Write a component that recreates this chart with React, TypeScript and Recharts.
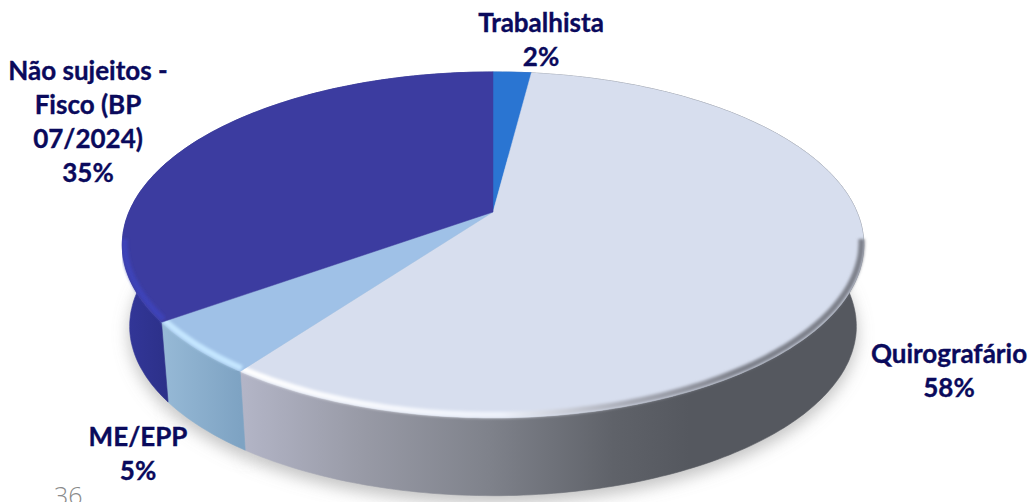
import React from "react";
import { PieChart, Pie, Cell } from "recharts";

const categories = ["Trabalhista", "Quirografário", "ME/EPP", "Não sujeitos - Fisco (BP 07/2024)"];
const shares = [2, 58, 5, 35];
const topColors = ["#2a75d2", "#d7deee", "#9fc1e7", "#3c3ca0"];
const wallFills = ["#2a5fb0", "url(#wallQ)", "url(#wallM)", "url(#wallN)"];
const rimStrokes = ["#3a86e0", "url(#rimQ)", "#c4e6ff", "#3d43b8"];
const labelLines = [["Trabalhista"], ["Quirografário"], ["ME/EPP"], ["Não sujeitos -", "Fisco (BP", "07/2024)"]];
const pageNumber = "36";

const data = categories.map((name, i) => ({ name, value: shares[i] }));

// perspective projection of the pie's circle onto the tilted disc
const K = -0.19, A = 364, B = 166.7;
const project = (cx: number, cy: number, deg: number) => {
  const a = (deg * Math.PI) / 180;
  const u = Math.cos(a), v = -Math.sin(a), w = 1 + K * v;
  return [cx + (A * u) / w, cy + (B * v) / w];
};
const lower = (cx: number, cy: number, p: number[]) => [cx + (p[0] - cx) * 0.98, cy + (p[1] - cy) * 0.98 + 82];
const arc = (cx: number, cy: number, s: number, e: number) => {
  const n = Math.max(2, Math.ceil(Math.abs(e - s)));
  const pts: number[][] = [];
  for (let i = 0; i <= n; i++) pts.push(project(cx, cy, s + ((e - s) * i) / n));
  return pts;
};
const toPath = (pts: number[][]) => "M" + pts.map((p) => `${p[0].toFixed(1)},${p[1].toFixed(1)}`).join("L");

const ShadowShape = (p: any) => {
  const pts = arc(p.cx, p.cy, p.startAngle, p.endAngle).map((q) => lower(p.cx, p.cy, q));
  return <path d={toPath([[p.cx, p.cy + 82], ...pts]) + "Z"} fill="#8a8a8a" fillOpacity={0.5} stroke="#8a8a8a" strokeOpacity={0.5} filter="url(#soft)" transform="translate(0,7)" />;
};

const WallShape = (p: any) => {
  const top = arc(p.cx, p.cy, p.startAngle, p.endAngle);
  const bot = top.map((q) => lower(p.cx, p.cy, q)).reverse();
  const fill = wallFills[p.index];
  return <path d={toPath([...top, ...bot]) + "Z"} fill={fill} stroke={fill} strokeWidth={0.6} />;
};

const TopShape = (p: any) => {
  const pts = arc(p.cx, p.cy, p.startAngle, p.endAngle);
  // front-facing part of the rim only, pulled slightly inside the outline
  const s = Math.min(p.startAngle, -10);
  const e = Math.max(p.endAngle, -170);
  const rim = s > e ? arc(p.cx, p.cy, s, e).map((q) => [p.cx + (q[0] - p.cx) * 0.994, q[1] - 3]) : null;
  return (
    <g>
      <path d={toPath([[p.cx, p.cy], ...pts]) + "Z"} fill={topColors[p.index]} stroke={topColors[p.index]} strokeWidth={0.5} />
      {rim && <path d={toPath(rim)} fill="none" stroke={rimStrokes[p.index]} strokeWidth={6} strokeLinecap="butt" filter="url(#blur)" />}
    </g>
  );
};

const SliceLabel = (p: any) => {
  const anchors = [
    { x: 541, y: 32 },
    { x: 949, y: 363 },
    { x: 138, y: 446 },
    { x: 88, y: 80 },
  ];
  const lines = [...labelLines[p.index], `${shares[p.index]}%`];
  const a = anchors[p.index];
  return (
    <text textAnchor="middle" fontFamily="Lato" fontWeight={700} fontSize={26} fill="#0a0a5c" stroke="#0a0a5c" strokeWidth={0.35}>
      {lines.map((l, i) => (
        <tspan key={i} x={a.x} y={a.y + i * 34}>{l}</tspan>
      ))}
    </text>
  );
};

export default function App() {
  const common = {
    data,
    dataKey: "value",
    nameKey: "name",
    cx: 493,
    cy: 212,
    outerRadius: 170,
    startAngle: 90,
    endAngle: -270,
    paddingAngle: 0,
    isAnimationActive: false,
    stroke: "none",
    legendType: "none" as const,
  };
  return (
    <div style={{ position: "fixed", left: 0, top: 0, width: 1030, height: 502, overflow: "hidden", background: "#fff" }}>
      <PieChart width={1030} height={502} margin={{ top: 0, right: 0, bottom: 0, left: 0 }} style={{ overflow: "hidden" }}>
        <defs>
          <filter id="soft" x="-20%" y="-20%" width="140%" height="140%"><feGaussianBlur stdDeviation="8" /></filter>
          <filter id="blur" x="-5%" y="-5%" width="110%" height="110%"><feGaussianBlur stdDeviation="1.6" /></filter>
          <linearGradient id="wallQ" gradientUnits="userSpaceOnUse" x1="237" y1="0" x2="865" y2="0">
            <stop offset="0" stopColor="#b4b6c8" />
            <stop offset="0.2" stopColor="#989aa6" />
            <stop offset="0.4" stopColor="#7f828b" />
            <stop offset="0.6" stopColor="#5f6269" />
            <stop offset="0.72" stopColor="#55585f" />
            <stop offset="1" stopColor="#55585f" />
          </linearGradient>
          <linearGradient id="wallM" gradientUnits="userSpaceOnUse" x1="163" y1="0" x2="240" y2="0">
            <stop offset="0" stopColor="#96b9d6" />
            <stop offset="1" stopColor="#7ea3c3" />
          </linearGradient>
          <linearGradient id="wallN" gradientUnits="userSpaceOnUse" x1="122" y1="0" x2="170" y2="0">
            <stop offset="0" stopColor="#33379a" />
            <stop offset="1" stopColor="#2c3088" />
          </linearGradient>
          <linearGradient id="rimQ" gradientUnits="userSpaceOnUse" x1="237" y1="0" x2="865" y2="0">
            <stop offset="0" stopColor="#ffffff" />
            <stop offset="0.42" stopColor="#eef2fb" />
            <stop offset="0.62" stopColor="#a8abb6" />
            <stop offset="0.8" stopColor="#7d808a" />
            <stop offset="1" stopColor="#7d808a" />
          </linearGradient>
        </defs>
        <Pie {...common} shape={ShadowShape} label={false} />
        <Pie {...common} shape={WallShape} label={false} />
        <Pie {...common} shape={TopShape} label={SliceLabel} labelLine={false}>
          {data.map((d, i) => <Cell key={d.name} fill={topColors[i]} />)}
        </Pie>
        <text x={54} y={505} fontFamily="Open Sans" fontWeight={300} fontSize={25} fill="#8a8a8a">{pageNumber}</text>
      </PieChart>
    </div>
  );
}
